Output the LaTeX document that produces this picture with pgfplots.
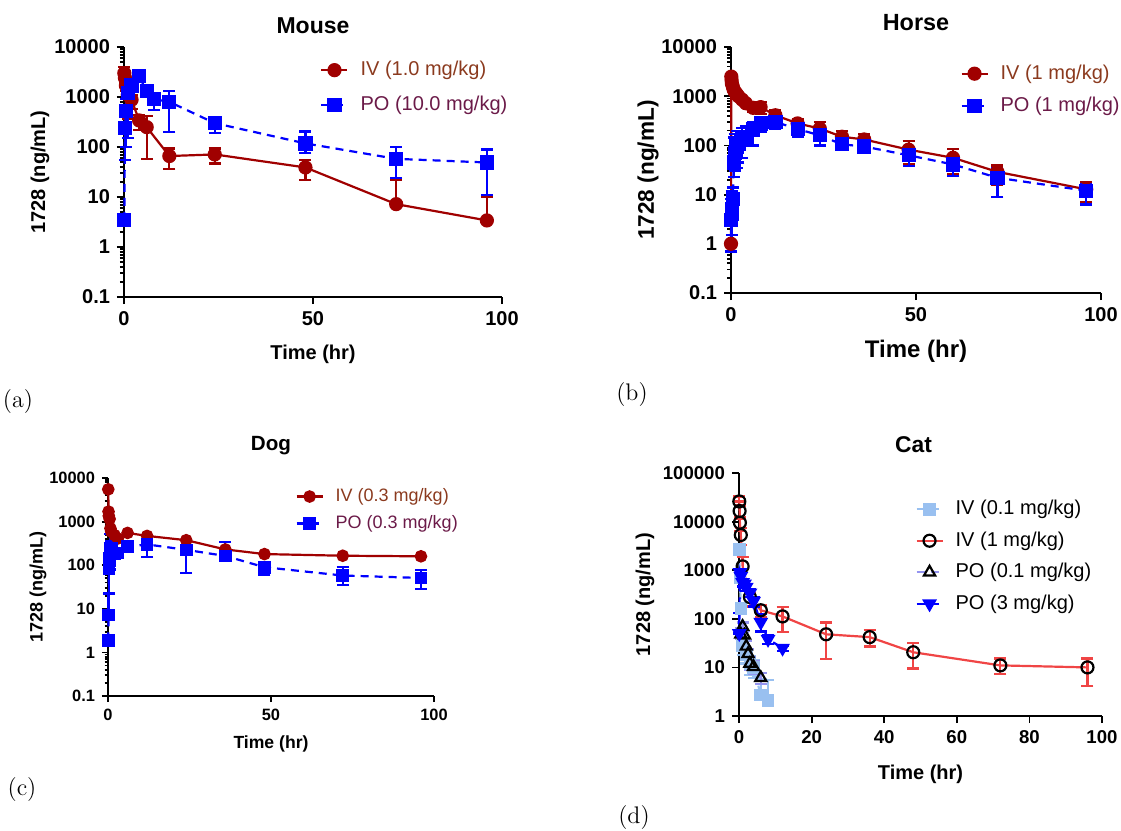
\documentclass[border=0pt]{standalone}
\usepackage{pgfplots}
\pgfplotsset{compat=1.18}
\usepackage{fontspec}
\newfontfamily\arial{Liberation Sans}
\newcommand\F[1]{\arial\fontsize{#1}{#1}\selectfont}

\definecolor{ivred}{HTML}{A00000}
\definecolor{poblue}{HTML}{0000FF}
\definecolor{ivtext}{HTML}{8B3A1E}
\definecolor{potext}{HTML}{6B1A48}
\definecolor{catred}{HTML}{F04545}
\definecolor{catlb}{HTML}{99C0F0}
\definecolor{catlav}{HTML}{9494F0}

\pgfplotsset{
  every axis/.append style={
    scale only axis,
    axis x line*=bottom, axis y line*=left, tick pos=left,
    axis line style={line width=1.1pt,-},
    xmin=0, xmax=100, clip=false,
    tick align=outside,
    major tick length=3.5pt, minor tick length=2pt,
    every tick/.append style={black, line width=0.9pt},
    legend cell align=left,
    legend style={draw=none, fill=none, inner sep=0pt, anchor=north west, row sep=1pt,
      /tikz/every odd column/.append style={column sep=4pt}},
    legend image code/.code={\draw[mark repeat=2, mark phase=2, ##1] plot coordinates {(0pt,0pt) (6.5pt,0pt) (13pt,0pt)};},
  },
  kperr/.style={error bars/y dir=both, error bars/y explicit,
    error bars/error mark options={rotate=90, mark size=3pt, line width=1.1pt, solid},
    error bars/error bar style={line width=1.1pt, solid}},
  kpiv/.style={ivred, line width=1.1pt, mark=*, mark size=3pt},
  kppo/.style={poblue, line width=1.1pt, dash pattern=on 4pt off 3pt, mark=square*, mark size=3pt, mark options={solid}},
}

% Mouse
\pgfplotstableread{
t c ep em
0.083 3000 1000 0
0.25 2400 900 500
0.5 1700 300 400
1 1100 600 730
2 880 200 300
4 340 90 120
6 250 160 193
12 66 27 30
24 71 22 24
48 39 16 17
72 7.2 15 0
96 3.4 6.7 0
}\mouseIV
\pgfplotstableread{
t c ep em
0.083 3.5 0 0
0.25 240 60 185
0.5 520 400 420
1 1200 300 1050
2 1700 300 300
4 2600 300 300
6 1300 200 200
8 900 200 350
12 800 540 600
24 300 47 107
48 118 87 43
72 58 43 34
96 49 40 38
}\mousePO
% Horse
\pgfplotstableread{
t c ep em
0 1 1.5 0
0.083 2500 300 300
0.167 2100 200 200
0.25 1800 200 200
0.5 1550 150 150
0.75 1350 150 150
1 1250 150 150
1.5 1120 120 120
2 1000 100 100
3 850 100 100
4 720 80 80
6 580 100 100
8 600 160 160
12 410 120 125
18 280 70 93
24 220 80 72
30 150 46 50
36 132 41 39
48 82 41 40
60 56 30 30
72 29 10 13.6
96 12.8 5.2 5.7
}\horseIV
\pgfplotstableread{
t c ep em
0.083 3 5 2.3
0.167 4 8 3
0.25 5 7 3.5
0.5 8 6 5
0.75 45 100 22
1 70 100 40
1.5 95 100 60
2 105 90 60
3 130 100 75
4 150 100 50
6 210 90 110
8 280 70 90
12 300 50 80
18 215 50 67
24 160 40 60
30 105 25 19
36 95 20 21
48 63 20 25
60 41 12 17
72 22 12 13
96 12 4 5.7
}\horsePO
% Dog
\pgfplotstableread{
t c
0.083 5500
0.167 1700
0.25 1350
0.5 1150
0.75 700
1 590
2 490
3 410
6 550
12 470
24 375
36 230
48 180
72 165
96 160
}\dogIV
\pgfplotstableread{
t c ep em
0.083 1.9 0 0
0.167 7.2 15 0
0.25 85 100 62
0.5 130 200 50
0.75 220 300 60
1 250 100 80
2 187 60 40
3 190 60 40
6 266 80 50
12 300 40 143
24 225 40 160
36 163 180 20
48 90 25 30
72 58 32 23
96 51 28 22
}\dogPO
% Cat
\pgfplotstableread{
t c ep em
0.083 2700 300 300
0.25 700 100 100
0.5 165 40 40
1 28 10 10
2 18 6 6
3 12 5 5
4 10 4 4
6 2.7 3 0
8 2.1 3.5 0
}\catIVa
\pgfplotstableread{
t c ep em
0.083 26000 7000 0
0.167 16500 5000 5000
0.25 9500 3000 3000
0.5 5300 2000 2000
1 1200 700 600
3 280 60 100
6 150 45 40
12 112 61 59
24 48 36 33
36 42 17 15
48 20.5 11.5 11
72 11 4.2 3.7
96 10 5.2 5.8
}\catIVb
\pgfplotstableread{
t c ep em
0.5 48 15 10
1 69 15 15
1.5 46 10 10
2 27 8 8
2.5 19 5 5
3 12 4 3
4 10.3 3 3
6 6.1 1.5 1.5
}\catPOa
\pgfplotstableread{
t c ep em
0.083 50 80 0
0.25 900 150 150
0.5 750 200 200
1 560 100 100
1.5 520 90 90
2 450 80 80
3 340 60 60
4 230 50 50
6 85 40 30
8 38 8 8
12 25 3 3
}\catPOb

\begin{document}
\begin{tikzpicture}
\useasboundingbox (0pt,0pt) rectangle (560.5pt,-415.5pt);

% (a) Mouse
\begin{axis}[at={(62pt,-148.5pt)}, anchor=south west, width=189pt, height=125pt,
  ymode=log, ymin=0.1, ymax=10000,
  ytick={0.1,1,10,100,1000,10000}, yticklabels={0.1,1,10,100,1000,10000},
  xtick={0,50,100}, xticklabels={0,50,100},
  tick label style={font=\F{10}\bfseries},
  legend style={at={(0.5185,0.96)}, font=\F{10}, row sep=4.5pt}]
\addplot[kpiv, kperr] table[x=t, y=c, y error plus=ep, y error minus=em] {\mouseIV};
\addlegendentry{\textcolor{ivtext}{IV (1.0 mg/kg)}}
\addplot[kppo, kperr] table[x=t, y=c, y error plus=ep, y error minus=em] {\mousePO};
\addlegendentry{\textcolor{potext}{PO (10.0 mg/kg)}}
\node[anchor=base, font=\F{11.5}\bfseries] at ([yshift=7pt]rel axis cs:0.5,1) {Mouse};
\node[anchor=base, font=\F{10}\bfseries] at ([yshift=-31pt]rel axis cs:0.5,0) {Time (hr)};
\node[rotate=90, font=\F{10}\bfseries] at ([xshift=-42pt]rel axis cs:0,0.5) {1728 (ng/mL)};
\end{axis}

% (b) Horse
\begin{axis}[at={(365.5pt,-146.5pt)}, anchor=south west, width=185pt, height=123pt,
  ymode=log, ymin=0.1, ymax=10000,
  ytick={0.1,1,10,100,1000,10000}, yticklabels={0.1,1,10,100,1000,10000},
  xtick={0,50,100}, xticklabels={0,50,100},
  tick label style={font=\F{10}\bfseries},
  legend style={at={(0.619,0.945)}, font=\F{10}, row sep=3.5pt}]
\addplot[kpiv, kperr] table[x=t, y=c, y error plus=ep, y error minus=em] {\horseIV};
\addlegendentry{\textcolor{ivtext}{IV (1 mg/kg)}}
\addplot[kppo, kperr] table[x=t, y=c, y error plus=ep, y error minus=em] {\horsePO};
\addlegendentry{\textcolor{potext}{PO (1 mg/kg)}}
\node[anchor=base, font=\F{11.7}\bfseries] at ([yshift=8.5pt]rel axis cs:0.5,1) {Horse};
\node[anchor=base, font=\F{12}\bfseries] at ([yshift=-32pt]rel axis cs:0.5,0) {Time (hr)};
\node[rotate=90, font=\F{11.3}\bfseries] at ([xshift=-41.5pt]rel axis cs:0,0.5) {1728 (ng/mL)};
\end{axis}

% (c) Dog
\begin{axis}[at={(54pt,-348pt)}, anchor=south west, width=163pt, height=109pt,
  ymode=log, ymin=0.1, ymax=10000,
  ytick={0.1,1,10,100,1000,10000}, yticklabels={0.1,1,10,100,1000,10000},
  xtick={0,50,100}, xticklabels={0,50,100},
  tick label style={font=\F{8.2}\bfseries},
  major tick length=3pt, minor tick length=1.7pt,
  legend style={at={(0.574,0.972)}, font=\F{9}, row sep=1.5pt}]
\addplot[kpiv, mark size=2.6pt] table[x=t, y=c] {\dogIV};
\addlegendentry{\textcolor{ivtext}{IV (0.3 mg/kg)}}
\addplot[kppo, mark size=2.6pt, kperr] table[x=t, y=c, y error plus=ep, y error minus=em] {\dogPO};
\addlegendentry{\textcolor{potext}{PO (0.3 mg/kg)}}
\node[anchor=base, font=\F{10.3}\bfseries] at ([yshift=14pt]rel axis cs:0.5,1) {Dog};
\node[anchor=base, font=\F{8.8}\bfseries] at ([yshift=-26pt]rel axis cs:0.5,0) {Time (hr)};
\node[rotate=90, font=\F{9}\bfseries] at ([xshift=-35pt]rel axis cs:0,0.5) {1728 (ng/mL)};
\end{axis}

% (d) Cat
\begin{axis}[at={(369.5pt,-358pt)}, anchor=south west, width=181.5pt, height=121.5pt,
  ymode=log, ymin=1, ymax=100000, yminorticks=false,
  ytick={1,10,100,1000,10000,100000},
  yticklabels={1,10,100,1000,10000,100000},
  xtick={0,20,40,60,80,100}, xticklabels={0,20,40,60,80,100},
  tick label style={font=\F{9.3}\bfseries},
  legend style={at={(0.485,0.905)}, font=\F{10}, row sep=3pt}]
\addplot[catlb, line width=1.1pt, dash pattern=on 4pt off 3pt, mark=square*, mark size=2.6pt, mark options={solid}, kperr] table[x=t, y=c, y error plus=ep, y error minus=em] {\catIVa};
\addlegendentry{IV (0.1 mg/kg)}
\addplot[catred, line width=1.1pt, mark=o, mark size=3pt, mark options={draw=black, fill=white, line width=1.1pt}, kperr] table[x=t, y=c, y error plus=ep, y error minus=em] {\catIVb};
\addlegendentry{IV (1 mg/kg)}
\addplot[catlav, line width=1.1pt, dash pattern=on 4pt off 3pt, mark=triangle, mark size=3.2pt, mark options={solid, draw=black, fill=white, line width=1.1pt}, kperr] table[x=t, y=c, y error plus=ep, y error minus=em] {\catPOa};
\addlegendentry{PO (0.1 mg/kg)}
\addplot[poblue, line width=1.1pt, dash pattern=on 4pt off 3pt, mark=triangle*, mark size=3.2pt, mark options={solid, rotate=180}, kperr] table[x=t, y=c, y error plus=ep, y error minus=em] {\catPOb};
\addlegendentry{PO (3 mg/kg)}
\node[anchor=base, font=\F{11.4}\bfseries] at ([yshift=10.5pt,xshift=-3.5pt]rel axis cs:0.5,1) {Cat};
\node[anchor=base, font=\F{10}\bfseries] at ([yshift=-31.5pt]rel axis cs:0.5,0) {Time (hr)};
\node[rotate=90, font=\F{10}\bfseries] at ([xshift=-47pt]rel axis cs:0,0.5) {1728 (ng/mL)};
\end{axis}

\node[font=\fontsize{12}{12}\selectfont] at (9pt,-201pt) {(a)};
\node[font=\fontsize{12}{12}\selectfont] at (316pt,-197.5pt) {(b)};
\node[font=\fontsize{12}{12}\selectfont] at (11pt,-395pt) {(c)};
\node[font=\fontsize{12}{12}\selectfont] at (317pt,-409pt) {(d)};
\end{tikzpicture}
\end{document}
